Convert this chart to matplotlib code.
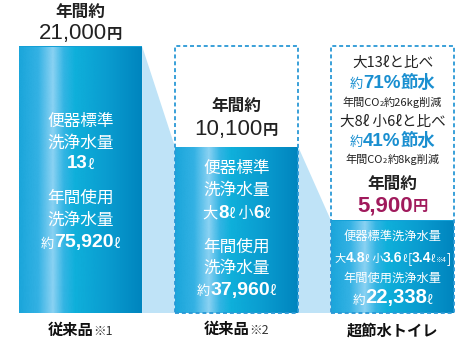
import matplotlib
matplotlib.use("Agg")
import matplotlib.pyplot as plt
import numpy as np
from matplotlib.offsetbox import TextArea, HPacker, AnnotationBbox
from matplotlib import transforms
from matplotlib.colors import LinearSegmentedColormap
from matplotlib.patches import Rectangle

JP = ['Noto Sans CJK JP', 'DejaVu Sans']
NUM = ['Liberation Sans', 'DejaVu Sans']
plt.rcParams['font.family'] = JP

# ---------------- data ----------------
categories = ["従来品", "従来品", "超節水トイレ"]
footnotes = ["※1", "※2", ""]
annual_cost_yen = [21000, 10100, 5900]
cost_labels = ["21,000", "10,100", "5,900"]
annual_water_labels = ["75,920", "37,960", "22,338"]
flush_volume_1 = "13"
flush_volume_2 = ["8", "6"]
flush_volume_3 = ["4.8", "3.6", "3.4"]
saving_pct = ["71%", "41%"]
co2_cut_kg = ["26", "8"]
scale_base = 3000  # baseline of the (log) value axis

W, H = 462, 348
fig = plt.figure(figsize=(W / 100, H / 100), dpi=100)
ax = fig.add_axes([0, 0, 1, 1])
ax.set_yscale('log')
ax.axis('off')
px_per_unit = 156.0
ax.set_xlim(-80.5 / px_per_unit, (W - 80.5) / px_per_unit)
ylo = 10 ** (np.log10(scale_base) - 35 / 315.6)
yhi = 10 ** (np.log10(scale_base) + 313 / 315.6)
ax.set_ylim(ylo, yhi)

x = np.arange(len(categories))
bw = 0.79
top_max = max(annual_cost_yen)

# connectors
for i in range(len(x) - 1):
    xr = x[i] + bw / 2
    xl = x[i + 1] - bw / 2
    ax.fill([xr, xl, xl, xr], [annual_cost_yen[i], annual_cost_yen[i + 1], scale_base, scale_base],
            color='#bfe3f7', lw=0, zorder=1)

# gradient bars
cmap = LinearSegmentedColormap.from_list('bar', [
    (0.00, '#1ba6db'), (0.15, '#34b2e4'), (0.27, '#8ad2f3'), (0.36, '#33b5e4'),
    (0.45, '#0fb0db'), (0.70, '#0a9dd0'), (1.00, '#0084be')])
grad = np.linspace(0, 1, 256).reshape(1, -1)
bars = ax.bar(x, [v - scale_base for v in annual_cost_yen], bottom=scale_base, width=bw,
              color='#14a0d6', lw=0, zorder=2)
for xi, b, v in zip(x, bars, annual_cost_yen):
    im = ax.imshow(grad, cmap=cmap, aspect='auto', extent=(xi - bw / 2, xi + bw / 2, scale_base, v),
                   zorder=2.5, interpolation='bicubic')
    im.set_clip_path(b)
ax.set_xlim(-80.5 / px_per_unit, (W - 80.5) / px_per_unit)
ax.set_ylim(ylo, yhi)

# dashed boxes
for xi in x[1:]:
    ax.add_patch(Rectangle((xi - bw / 2, scale_base), bw, top_max - scale_base, fill=False,
                           ec='#2a98d6', lw=1.3, ls=(0, (2.2, 1.6)), zorder=3))

trans = transforms.blended_transform_factory(
    ax.transData, transforms.Affine2D().scale(1, -1).translate(0, H))


def line(xc, y, pieces):
    areas = []
    for p in pieces:
        txt, size = p[0], p[1]
        weight = p[2] if len(p) > 2 else 'normal'
        color = p[3] if len(p) > 3 else 'white'
        fam = p[4] if len(p) > 4 else JP
        areas.append(TextArea(txt, textprops=dict(fontsize=size, fontweight=weight,
                                                  color=color, family=fam)))
    box = HPacker(children=areas, align='baseline', pad=0, sep=0)
    ab = AnnotationBbox(box, (xc, y), xycoords=trans, frameon=False,
                        box_alignment=(0.5, 0.5), pad=0, annotation_clip=False, zorder=5)
    ax.add_artist(ab)


K = '#222222'
BL = '#1a8fd0'
MG = '#a01a5c'
W_ = 'white'

# column 1
line(0, 12, [("年間約", 12, 'bold', K)])
line(0, 34, [(cost_labels[0], 16, 'normal', K, NUM), ("円", 11, 'bold', K)])
line(0, 121, [("便器標準", 12, 'normal', W_)])
line(0, 143, [("洗浄水量", 12, 'normal', W_)])
line(0, 164, [(flush_volume_1, 13.5, 'bold', W_, NUM), ("ℓ", 10, 'normal', W_)])
line(0, 198, [("年間使用", 12, 'normal', W_)])
line(0, 220, [("洗浄水量", 12, 'normal', W_)])
line(0, 243, [("約", 9.5, 'normal', W_), (annual_water_labels[0], 14, 'bold', W_, NUM), ("ℓ", 10, 'normal', W_)])
line(0, 330, [(categories[0], 11, 'bold', '#111111'), (footnotes[0], 9, 'normal', '#333333')])

# column 2
line(1, 106, [("年間約", 12, 'bold', K)])
line(1, 130, [(cost_labels[1], 16, 'normal', K, NUM), ("円", 11, 'bold', K)])
line(1, 168, [("便器標準", 12, 'normal', W_)])
line(1, 190, [("洗浄水量", 12, 'normal', W_)])
line(1, 213, [("大", 11, 'normal', W_), (flush_volume_2[0], 13.5, 'bold', W_, NUM), ("ℓ", 10, 'normal', W_),
              (" 小", 11, 'normal', W_), (flush_volume_2[1], 13.5, 'bold', W_, NUM), ("ℓ", 10, 'normal', W_)])
line(1, 247, [("年間使用", 12, 'normal', W_)])
line(1, 268, [("洗浄水量", 12, 'normal', W_)])
line(1, 290, [("約", 9.5, 'normal', W_), (annual_water_labels[1], 14, 'bold', W_, NUM), ("ℓ", 10, 'normal', W_)])
line(1, 329, [(categories[1], 11, 'bold', '#111111'), (footnotes[1], 9, 'normal', '#333333')])

# column 3
line(2, 63, [("大13ℓと比べ", 10.5, 'normal', K)])
line(2, 83, [("約", 9.5, 'normal', BL), (saving_pct[0], 13.5, 'bold', BL, NUM), ("節水", 12.5, 'bold', BL)])
line(2, 102, [("年間CO", 8, 'normal', K), ("2", 5.5, 'normal', K), ("約" + co2_cut_kg[0] + "kg削減", 8, 'normal', K)])
line(2, 122, [("大8ℓ 小6ℓと比べ", 10.5, 'normal', K)])
line(2, 141, [("約", 9.5, 'normal', BL), (saving_pct[1], 13.5, 'bold', BL, NUM), ("節水", 12.5, 'bold', BL)])
line(2, 159, [("年間CO", 8, 'normal', K), ("2", 5.5, 'normal', K), ("約" + co2_cut_kg[1] + "kg削減", 8, 'normal', K)])
line(2, 184, [("年間約", 12, 'bold', K)])
line(2, 206, [(cost_labels[2], 16, 'bold', MG, NUM), ("円", 11, 'bold', MG)])
line(2, 236, [("便器標準洗浄水量", 8.8, 'normal', W_)])
line(2, 258, [("大", 8, 'normal', W_), (flush_volume_3[0], 10, 'bold', W_, NUM), ("ℓ", 7, 'normal', W_),
              (" 小", 8, 'normal', W_), (flush_volume_3[1], 10, 'bold', W_, NUM), ("ℓ", 7, 'normal', W_),
              ("[", 9, 'normal', W_), (flush_volume_3[2], 10, 'bold', W_, NUM), ("ℓ", 7, 'normal', W_),
              ("※4", 5, 'normal', W_), ("]", 9, 'normal', W_)])
line(2, 278, [("年間使用洗浄水量", 8.8, 'normal', W_)])
line(2, 298, [("約", 9, 'normal', W_), (annual_water_labels[2], 14.5, 'bold', W_, NUM), ("ℓ", 9, 'normal', W_)])
line(2, 331, [(categories[2], 11, 'bold', '#111111')])

fig.savefig("out.png", dpi=100)
